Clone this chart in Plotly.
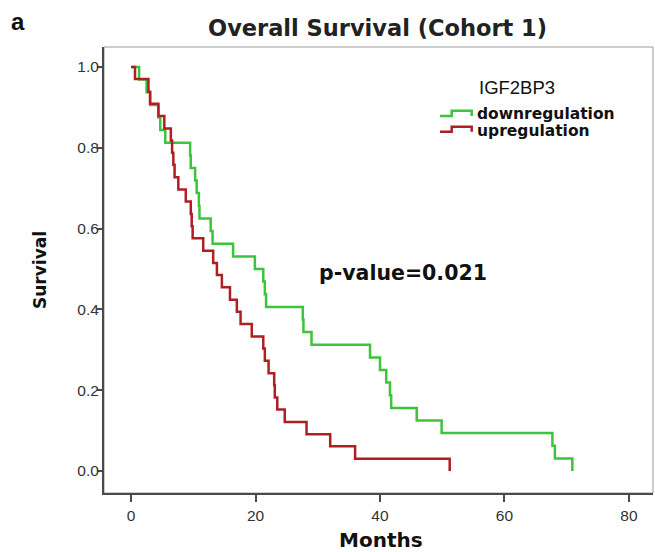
import plotly.graph_objects as go

# ---- data (Kaplan-Meier step curves) ----
down_months = [0, 1.3, 2.5, 3.1, 4.4, 4.7, 5.5, 9.5, 9.6, 10.3, 10.55, 10.9, 11.0,
               12.8, 13.1, 16.4, 19.9, 21.25, 21.5, 21.7, 27.6, 27.7, 29.0,
               38.4, 40.0, 41.0, 41.6, 41.8, 45.9, 49.9, 67.7, 68.1, 70.9]
down_surv = [1.0, 0.969, 0.9375, 0.906, 0.875, 0.844, 0.8125, 0.781, 0.75, 0.719,
             0.688, 0.656, 0.625, 0.594, 0.5625, 0.531, 0.5, 0.469, 0.4375, 0.406,
             0.375, 0.344, 0.3125, 0.281, 0.25, 0.219, 0.1875, 0.156, 0.125, 0.094,
             0.0625, 0.031, 0.0]

up_months = [0, 0.64, 2.8, 3.05, 4.4, 5.35, 6.4, 6.6, 6.8, 7.0, 7.6, 8.8, 9.6, 9.75,
             9.9, 11.6, 13.2, 13.8, 14.6, 15.9, 17.0, 17.6, 19.4, 21.25, 21.5, 22.1,
             23.0, 23.1, 23.5, 24.7, 28.2, 32.0, 36.0, 51.2]
up_surv = [1.0, 0.970, 0.939, 0.909, 0.879, 0.848, 0.818, 0.788, 0.758, 0.727, 0.697,
           0.667, 0.636, 0.606, 0.576, 0.545, 0.515, 0.485, 0.455, 0.424, 0.394, 0.364,
           0.333, 0.303, 0.273, 0.242, 0.212, 0.182, 0.152, 0.121, 0.091, 0.061, 0.030,
           0.0]

x_ticks = [0, 20, 40, 60, 80]
y_ticks = [0.0, 0.2, 0.4, 0.6, 0.8, 1.0]
y_tick_labels = ["0.0", "0.2", "0.4", "0.6", "0.8", "1.0"]

GREEN = "#3CC43C"
RED = "#AE1F24"

W, H = 655, 552
ML, MR, MT, MB = 104, 2, 47, 59
PW, PH = W - ML - MR, H - MT - MB


def px(x):
    return (x - ML) / PW


def py(y):
    return (H - MB - y) / PH


fig = go.Figure()
fig.add_trace(go.Scatter(x=down_months, y=down_surv, mode="lines", name="downregulation",
                         line=dict(color=GREEN, width=2.5, shape="hv"), showlegend=False))
fig.add_trace(go.Scatter(x=up_months, y=up_surv, mode="lines", name="upregulation",
                         line=dict(color=RED, width=2.5, shape="hv"), showlegend=False))

bold = "DejaVu Sans"
fig.update_layout(
    width=W, height=H,
    margin=dict(l=ML, r=MR, t=MT, b=MB),
    paper_bgcolor="white", plot_bgcolor="white",
    xaxis=dict(range=[-4.34, 83.86], tickvals=x_ticks, showgrid=False, zeroline=False,
               showline=True, linecolor="#4a4a4a", linewidth=2, ticks="outside",
               ticklen=7, tickwidth=2, tickcolor="#4a4a4a",
               tickfont=dict(family="Liberation Sans", size=15.5, color="#333")),
    yaxis=dict(range=[-0.0545, 1.0495], tickvals=y_ticks, ticktext=y_tick_labels,
               showgrid=False, zeroline=False, showline=True, linecolor="#4a4a4a",
               linewidth=2, ticks="outside", ticklen=5, tickwidth=2, tickcolor="#4a4a4a",
               ticklabelstandoff=-5,
               tickfont=dict(family="Liberation Sans", size=15.5, color="#333")),
    showlegend=False,
)

# light frame (top / right)
fig.add_shape(type="rect", xref="paper", yref="paper", x0=0, x1=1, y0=0, y1=1,
              line=dict(color="#9a9a9a", width=1), layer="below")

ann = [
    dict(text="<b>a</b>", x=px(18), y=py(22), font=dict(family="Liberation Sans", size=24, color="#111")),
    dict(text="<b>Overall Survival (Cohort 1)</b>", x=px(377.5), y=py(28),
         font=dict(family=bold, size=22.5, color="#222")),
    dict(text="<b>Survival</b>", x=px(40), y=py(270), textangle=-90,
         font=dict(family=bold, size=17, color="#111")),
    dict(text="<b>Months</b>", x=px(381), y=py(540), font=dict(family=bold, size=20, color="#111")),
    dict(text="<b>p-value=0.021</b>", x=px(402.5), y=py(273),
         font=dict(family=bold, size=20.5, color="#111")),
    dict(text="IGF2BP3", x=px(477), y=py(87), xanchor="left",
         font=dict(family="Liberation Sans", size=18.5, color="#111")),
    dict(text="<b>downregulation</b>", x=px(475), y=py(114), xanchor="left",
         font=dict(family=bold, size=15.5, color="#111")),
    dict(text="<b>upregulation</b>", x=px(475), y=py(130.5), xanchor="left",
         font=dict(family=bold, size=15.5, color="#111")),
]
for a in ann:
    a.setdefault("xanchor", "center")
    fig.add_annotation(xref="paper", yref="paper", showarrow=False, yanchor="middle", **a)


def step_icon(y_low, y_high, color):
    pts = [(440, y_low), (451.7, y_low), (451.7, y_high), (471.7, y_high), (471.7, y_low)]
    path = "M " + " L ".join(f"{px(x):.5f},{py(y):.5f}" for x, y in pts)
    fig.add_shape(type="path", xref="paper", yref="paper", path=path,
                  line=dict(color=color, width=2.5))


step_icon(116, 110.7, GREEN)
step_icon(131.7, 126.7, RED)

fig.write_html("out.html", config={"displayModeBar": False},
               post_script="document.body.style.margin='0';")
